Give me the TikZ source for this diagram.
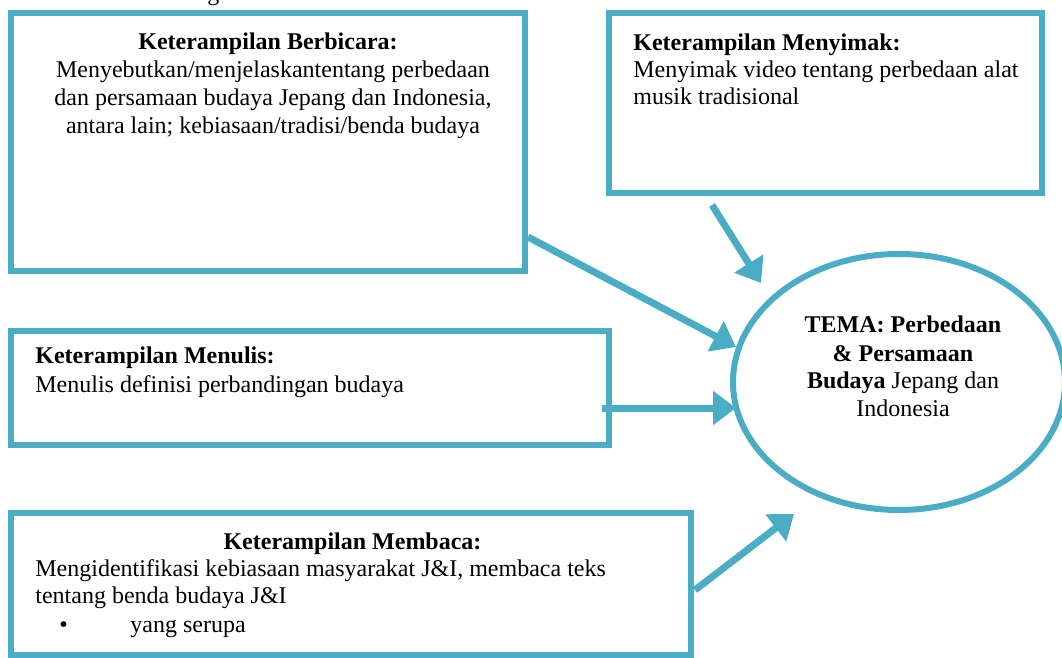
\documentclass[tikz,border=0pt]{standalone}
\usepackage{fontspec}
\setmainfont{Liberation Serif}
\usetikzlibrary{arrows.meta,shapes.geometric}
\definecolor{tealb}{HTML}{4BACC6}
\begin{document}
\begin{tikzpicture}[x=0.5pt,y=-0.5pt,
  box/.style={draw=tealb,line width=3pt,rectangle,inner sep=0pt},
  oval/.style={draw=tealb,line width=3pt,ellipse,inner sep=0pt},
  txt/.style={inner sep=0pt,font=\fontsize{12}{14}\selectfont},
  tl/.style={txt,anchor=base west},
  tc/.style={txt,anchor=base},
  conn/.style={draw=tealb,line width=3.5pt,-{Triangle[length=11.5pt,width=16.5pt]}}]
\useasboundingbox (0,0) rectangle (1062,658);
% cut-off text above the picture
\node[tl] (top) at (207,1) {g};
% boxes
\node[box,minimum width=257pt,minimum height=129pt] (bicara) at (268,142) {};
\node[box,minimum width=216.5pt,minimum height=90pt] (simak) at (825.5,103) {};
\node[box,minimum width=299pt,minimum height=57pt] (tulis) at (310,388) {};
\node[box,minimum width=340pt,minimum height=71pt] (baca) at (351,584) {};
\node[oval,minimum width=166pt,minimum height=128pt] (tema) at (899,382) {};
% texts
\node[tc] (b1) at (268,50) {\textbf{Keterampilan Berbicara:}};
\node[tc] (b2) at (273,78) {Menyebutkan/menjelaskantentang perbedaan};
\node[tc] (b3) at (273,106) {dan persamaan budaya Jepang dan Indonesia,};
\node[tc] (b4) at (273,134) {antara lain; kebiasaan/tradisi/benda budaya};
\node[tl] (s1) at (633,51) {\textbf{Keterampilan Menyimak:}};
\node[tl] (s2) at (633,78) {Menyimak video tentang perbedaan alat};
\node[tl] (s3) at (633,105) {musik tradisional};
\node[tl] (w1) at (35,364) {\textbf{Keterampilan Menulis:}};
\node[tl] (w2) at (35,393) {Menulis definisi perbandingan budaya};
\node[tc] (r1) at (352.5,549) {\textbf{Keterampilan Membaca:}};
\node[tl] (r2) at (35,576) {Mengidentifikasi kebiasaan masyarakat J\&I, membaca teks};
\node[tl] (r3) at (35,603) {tentang benda budaya J\&I};
\node[tl] (r4) at (59,632) {\textbullet};
\node[tl] (r5) at (130,632) {yang serupa};
\node[tc] (e1) at (903,333) {\textbf{TEMA: Perbedaan}};
\node[tc] (e2) at (903,361) {\textbf{\& Persamaan}};
\node[tc] (e3) at (903,388) {\textbf{Budaya} Jepang dan};
\node[tc] (e4) at (903,416) {Indonesia};
% connector ends
\coordinate (c1s) at (528,237);
\coordinate (c1e) at (736,347);
\coordinate (c2s) at (712,205);
\coordinate (c2e) at (761,283);
\coordinate (c3s) at (602,408);
\coordinate (c3e) at (736,408);
\coordinate (c4s) at (695,590);
\coordinate (c4e) at (794,514);
\draw[conn] (c1s) -- (c1e);
\draw[conn] (c2s) -- (c2e);
\draw[conn] (c3s) -- (c3e);
\draw[conn] (c4s) -- (c4e);
\end{tikzpicture}
\end{document}
